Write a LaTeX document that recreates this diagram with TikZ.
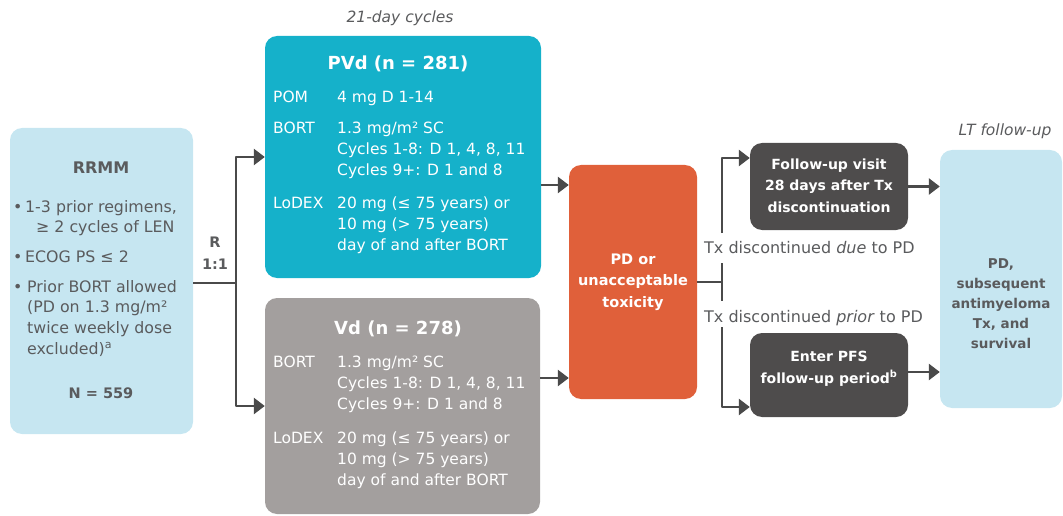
\documentclass[tikz,border=0pt]{standalone}
\usepackage{fontspec}
\setmainfont{DejaVu Sans}
\usetikzlibrary{arrows.meta,calc,positioning}

\definecolor{rrmmblue}{HTML}{C6E6F1}
\definecolor{pvdteal}{HTML}{15B1CA}
\definecolor{vdgray}{HTML}{A39F9E}
\definecolor{pdorange}{HTML}{E0603A}
\definecolor{fudark}{HTML}{4E4C4C}
\definecolor{txtgray}{HTML}{5A5B5D}
\definecolor{linegray}{HTML}{4A4A4A}

\newcommand{\bodyfont}{\fontsize{15.5}{21}\selectfont}
\newcommand{\leftfont}{\fontsize{15.8}{21}\selectfont}
\newcommand{\boxfont}{\fontsize{14.5}{21.5}\selectfont\bfseries}

\begin{document}
\begin{tikzpicture}[x=1pt,y=-1pt,line join=round,
    >={Triangle[length=11pt,width=16pt]},
    box/.style={rounded corners=12pt,inner sep=0pt},
    conn/.style={linegray,line width=2.6pt},
    body/.style={font=\bodyfont,inner sep=0pt,anchor=base west},
    lbody/.style={font=\leftfont,inner sep=0pt,anchor=base west,text=txtgray},
    mid/.style={font=\boxfont,inner sep=0pt,anchor=base,align=center},
    title/.style={font=\fontsize{18}{23}\selectfont\bfseries,inner sep=0pt,anchor=base}]
    \useasboundingbox (0,0) rectangle (1063,516);
    % ============ Boxes ============
    \node[box,fill=rrmmblue,minimum width=183pt,minimum height=306pt] (rrmm) at (101.5,281) {};
    \node[box,fill=pvdteal,minimum width=276pt,minimum height=242pt] (pvd) at (403,157) {};
    \node[box,fill=vdgray,minimum width=275pt,minimum height=216pt] (vd) at (402.5,406) {};
    \node[box,fill=pdorange,minimum width=128pt,minimum height=234pt] (pd) at (633,282) {};
    \node[box,fill=fudark,minimum width=158pt,minimum height=87pt] (fu) at (829,186.5) {};
    \node[box,fill=fudark,minimum width=158pt,minimum height=84pt] (pfs) at (829,375) {};
    \node[box,fill=rrmmblue,minimum width=122pt,minimum height=258pt] (lt) at (1001,279) {};
    % ============ Headings over columns ============
    \node[font=\bodyfont\itshape,text=txtgray,inner sep=0pt] (cyc) at (400,18) {21-day cycles};
    \node[font=\bodyfont\itshape,text=txtgray,inner sep=0pt] (ltfu) at (1005,131) {LT follow-up};
    % ============ RRMM ============
    \node[title,font=\fontsize{16}{20}\selectfont\bfseries,text=txtgray] (rrmmt) at (101,174) {RRMM};
    \node[lbody] (b1) at (13,212) {•};
    \node[lbody] (b1a) at (25,212) {1-3 prior regimens,};
    \node[lbody] (b1b) at (36,232) {≥ 2 cycles of LEN};
    \node[lbody] (b2) at (13,262) {•};
    \node[lbody] (b2a) at (25,262) {ECOG PS ≤ 2};
    \node[lbody] (b3) at (13,292) {•};
    \node[lbody] (b3a) at (27,292) {Prior BORT allowed};
    \node[lbody] (b3b) at (27,312) {(PD on 1.3 mg/m²};
    \node[lbody] (b3c) at (27,333) {twice weekly dose};
    \node[lbody] (b3d) at (27,354) {excluded)\textsuperscript{a}};
    \node[mid,text=txtgray] (nall) at (101,398) {N = 559};
    \node[mid,text=txtgray] (rand) at (215,269) {R\\1:1};
    % ============ PVd ============
    \node[title,text=white] (pvdt) at (398,70) {PVd (n = 281)};
    \node[body,text=white] (pvdtab) at (273,103) {%
      \begin{tabular}[t]{@{}p{64pt}@{}l@{}}
        POM & 4 mg D 1-14\\[10pt]
        BORT & 1.3 mg/m² SC\\
             & Cycles 1-8: D 1, 4, 8, 11\\
             & Cycles 9+: D 1 and 8\\[12pt]
        LoDEX & 20 mg (≤ 75 years) or\\
              & 10 mg (> 75 years)\\
              & day of and after BORT
      \end{tabular}};
    % ============ Vd ============
    \node[title,text=white] (vdt) at (398,334) {Vd (n = 278)};
    \node[body,text=white] (vdtab) at (273,367) {%
      \begin{tabular}[t]{@{}p{64pt}@{}l@{}}
        BORT & 1.3 mg/m² SC\\
             & Cycles 1-8: D 1, 4, 8, 11\\
             & Cycles 9+: D 1 and 8\\[13pt]
        LoDEX & 20 mg (≤ 75 years) or\\
              & 10 mg (> 75 years)\\
              & day of and after BORT
      \end{tabular}};
    % ============ Right side texts ============
    \node[mid,text=white] (pdt) at (633,307) {PD or\\unacceptable\\toxicity};
    \node[mid,font=\fontsize{14}{21.5}\selectfont\bfseries,text=white] (fut) at (829,212)
      {Follow-up visit\\28 days after Tx\\discontinuation};
    \node[mid,font=\fontsize{14}{21.5}\selectfont\bfseries,text=white] (pfst) at (829,383)
      {Enter PFS\\follow-up period\textsuperscript{b}};
    \node[mid,font=\fontsize{13.5}{20}\selectfont\bfseries,text=txtgray] (ltt) at (1001,348)
      {PD,\\subsequent\\antimyeloma\\Tx, and\\survival};
    \node[body,font=\fontsize{16}{21}\selectfont,text=txtgray] (due) at (704,253) {Tx discontinued \textit{due} to PD};
    \node[body,font=\fontsize{16}{21}\selectfont,text=txtgray] (prior) at (704,322) {Tx discontinued \textit{prior} to PD};
    % ============ Connectors ============
    \coordinate (rsplit) at (236,283);
    \coordinate (tsplit) at (722,282);
    \coordinate (tup) at (722,233);
    \coordinate (tdown) at (722,327);
    \draw[conn] (rrmm.east |- rsplit) -- (rsplit);
    \draw[conn,->] (rsplit) |- (pvd.west);
    \draw[conn,->] (rsplit) |- (vd.west);
    \draw[conn,->] (pvd.east |- 0,185) -- (pd.west |- 0,185);
    \draw[conn,->] (vd.east |- 0,378) -- (pd.west |- 0,378);
    \draw[conn] (pd.east) -- (tsplit);
    \draw[conn] ($(tsplit)+(0,-19)$) -- ($(tsplit)+(0,19)$);
    \draw[conn,->] (tup) |- (fu.west |- 0,158);
    \draw[conn,->] (tdown) |- (pfs.west |- 0,407);
    \draw[conn,->] (fu.east) -- (lt.west |- fu.east);
    \draw[conn,->] (pfs.east |- 0,372) -- (lt.west |- 0,372);
\end{tikzpicture}
\end{document}
